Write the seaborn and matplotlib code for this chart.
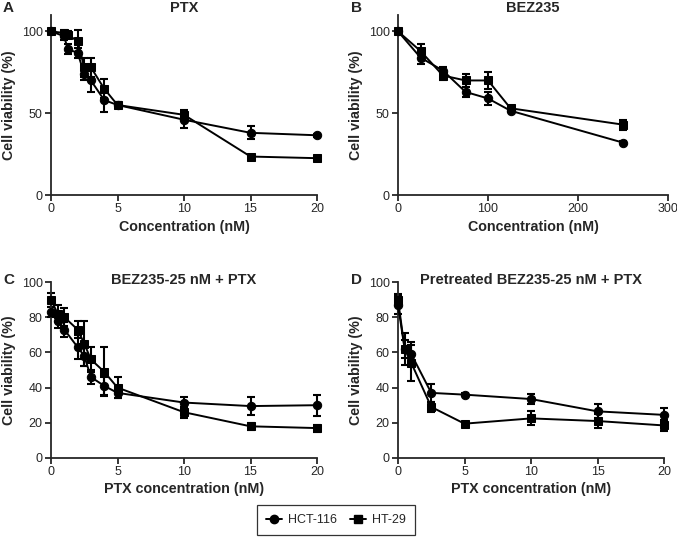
import numpy as np
import pandas as pd
import matplotlib
matplotlib.use("Agg")
import matplotlib.pyplot as plt
import seaborn as sns

# values (mean and error bar half-length)
A_CONC = [0, 1, 1.25, 2, 2.5, 3, 4, 5, 10, 15, 20]
A_HCT116 = [100, 97, 89, 87, 74, 70, 58, 55, 46, 38, 36.5]
A_HCT116_SD = [1, 2, 3, 3, 4, 7, 7, 2, 5, 4, 1]
A_HT29 = [100, 99, 98, 94, 78, 78, 65, 55, 49, 23.5, 22.5]
A_HT29_SD = [1, 2, 2, 7, 6, 6, 6, 2, 3, 1, 1]

B_CONC = [0, 25, 50, 75, 100, 125, 250]
B_HCT116 = [100, 84, 76, 63, 59, 51.5, 32]
B_HCT116_SD = [1, 4, 2, 3, 4, 1, 1]
B_HT29 = [100, 88, 73, 70, 70, 53, 43]
B_HT29_SD = [1, 4, 3, 4, 5, 1, 3]

C_CONC = [0, 0.5, 1, 2, 2.5, 3, 4, 5, 10, 15, 20]
C_HCT116 = [83, 78, 73, 63, 58, 46, 41, 37, 31.5, 29.5, 30]
C_HCT116_SD = [3, 4, 4, 7, 6, 4, 5, 3, 3, 5, 6]
C_HT29 = [90, 82, 80, 73, 65, 56, 49, 40, 26, 18, 17]
C_HT29_SD = [4, 5, 5, 5, 13, 7, 14, 6, 3, 2, 2]

D_CONC = [0, 0.5, 1, 2.5, 5, 10, 15, 20]
D_HCT116 = [87, 62, 59, 37, 36, 33.5, 26.5, 24.5]
D_HCT116_SD = [5, 9, 7, 5, 1, 3, 4, 4]
D_HT29 = [90, 62, 54, 29, 19.5, 22.5, 21, 18.5]
D_HT29_SD = [3, 5, 10, 3, 1, 4, 4, 3]

LINES = ["HCT-116", "HT-29"]
MARKERS = {"HCT-116": "o", "HT-29": "s"}


def make_frame(conc, hct, hct_sd, ht, ht_sd):
    rows = []
    for c, m, s in zip(conc, hct, hct_sd):
        rows.append({"conc": c, "viability": m, "sd": s, "line": "HCT-116"})
    for c, m, s in zip(conc, ht, ht_sd):
        rows.append({"conc": c, "viability": m, "sd": s, "line": "HT-29"})
    return pd.DataFrame(rows)


sns.set_style("ticks")
plt.rcParams["font.family"] = ["Liberation Sans", "DejaVu Sans"]

W, H = 677, 539
fig = plt.figure(figsize=(W / 100, H / 100), dpi=100)


def px_axes(left, right, top, bottom):
    return fig.add_axes([left / W, 1 - bottom / H, (right - left) / W, (bottom - top) / H])


panels = [
    # frame, rect(left,right,top,bottom), xlim, xticks, ylim, yticks, title, letter, xlabel
    (make_frame(A_CONC, A_HCT116, A_HCT116_SD, A_HT29, A_HT29_SD),
     (51, 317, 15, 195), (0, 20), [0, 5, 10, 15, 20], (0, 110), [0, 50, 100],
     "PTX", "A", "Concentration (nM)"),
    (make_frame(B_CONC, B_HCT116, B_HCT116_SD, B_HT29, B_HT29_SD),
     (398, 668, 15, 195), (0, 300), [0, 100, 200, 300], (0, 110), [0, 50, 100],
     "BEZ235", "B", "Concentration (nM)"),
    (make_frame(C_CONC, C_HCT116, C_HCT116_SD, C_HT29, C_HT29_SD),
     (51, 317, 282, 458), (0, 20), [0, 5, 10, 15, 20], (0, 100), [0, 20, 40, 60, 80, 100],
     "BEZ235-25 nM + PTX", "C", "PTX concentration (nM)"),
    (make_frame(D_CONC, D_HCT116, D_HCT116_SD, D_HT29, D_HT29_SD),
     (398, 664, 282, 458), (0, 20), [0, 5, 10, 15, 20], (0, 100), [0, 20, 40, 60, 80, 100],
     "Pretreated BEZ235-25 nM + PTX", "D", "PTX concentration (nM)"),
]

for df, rect, xlim, xticks, ylim, yticks, title, letter, xlabel in panels:
    ax = px_axes(*rect)
    for name in LINES:
        sub = df[df["line"] == name]
        ax.errorbar(sub["conc"], sub["viability"], yerr=sub["sd"], fmt="none",
                    ecolor="black", elinewidth=1.5, capsize=3, capthick=1.5,
                    clip_on=False, zorder=2)
    sns.lineplot(data=df, x="conc", y="viability", hue="line", style="line",
                 markers=MARKERS, dashes=False,
                 palette={"HCT-116": "black", "HT-29": "black"},
                 markersize=6, markeredgecolor="black", linewidth=1.4,
                 legend=False, ax=ax, zorder=3)
    for ln in ax.lines:
        ln.set_clip_on(False)
    ax.set_xlim(*xlim)
    ax.set_ylim(*ylim)
    ax.set_xticks(xticks)
    ax.set_yticks(yticks)
    sns.despine(ax=ax)
    for sp in ax.spines.values():
        sp.set_linewidth(1.3)
    ax.tick_params(axis="both", length=4, width=1.3, labelsize=9, pad=2)
    ax.set_xlabel(xlabel, fontsize=10.3, fontweight="bold", labelpad=3)
    ax.set_ylabel("Cell viability (%)", fontsize=10.3, fontweight="bold", labelpad=4)
    cx = (rect[0] + rect[1]) / 2
    ty = 8 if letter in "AB" else 280
    fig.text(cx / W, 1 - ty / H, title, ha="center", va="center",
             fontsize=10.5, fontweight="bold")
    lx = 3 if letter in "AC" else 351
    fig.text(lx / W, 1 - ty / H, letter, ha="left", va="center",
             fontsize=11, fontweight="bold")

handles = [
    plt.Line2D([], [], color="black", marker=MARKERS[n], markersize=6, linewidth=1.4)
    for n in LINES
]
leg = fig.legend(handles, LINES, loc="center", bbox_to_anchor=(336 / W, 1 - 520 / H),
                 ncol=2, frameon=True, fancybox=False, fontsize=9,
                 handlelength=1.3, handletextpad=0.5, columnspacing=1.0, borderpad=0.7)
leg.get_frame().set_edgecolor("black")
leg.get_frame().set_linewidth(0.9)

fig.savefig("out.png", dpi=100)
